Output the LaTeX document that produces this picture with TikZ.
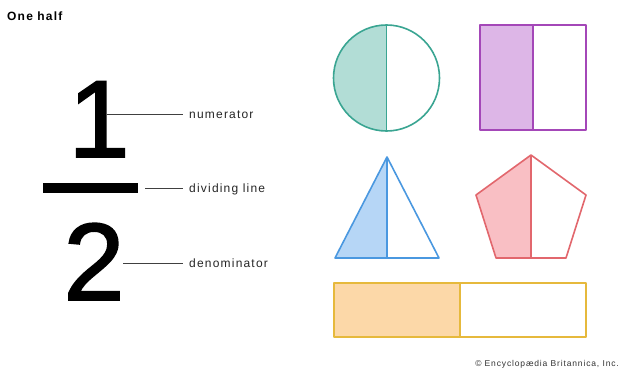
\documentclass[tikz,border=0pt]{standalone}
\usepackage{fontspec}
\setmainfont{Liberation Sans}
\newfontfamily\labfont[LetterSpace=10]{Liberation Sans}
\newfontfamily\digfont[FakeBold=1.5]{Liberation Sans}
\definecolor{tealS}{HTML}{3AA592}
\definecolor{tealF}{HTML}{B2DDD6}
\definecolor{purpS}{HTML}{A447B8}
\definecolor{purpF}{HTML}{DDB6E7}
\definecolor{blueS}{HTML}{4A98E0}
\definecolor{blueF}{HTML}{B6D6F6}
\definecolor{redS}{HTML}{E2676D}
\definecolor{redF}{HTML}{F9BFC4}
\definecolor{orS}{HTML}{E6B93C}
\definecolor{orF}{HTML}{FCD8A8}
\begin{document}
\begin{tikzpicture}[x=1pt,y=-1pt,
  lab/.style={font=\labfont\fontsize{12}{14}\selectfont, anchor=base west, inner sep=0pt, text=black!85},
  lead/.style={draw=black!75, line width=0.8pt},
  digit/.style={font=\digfont\fontsize{110}{110}\selectfont, anchor=base, inner sep=0pt},
  shp/.style={line width=1.6pt, line join=round}]
\useasboundingbox (0,0) rectangle (620,369);
\fill[white] (0,0) rectangle (620,369);
% title
\node[font=\labfont\bfseries\fontsize{12}{14}\selectfont, anchor=base west, inner sep=0pt] (title) at (7,21) {One half};
% fraction
\node[digit] (one) at (99,157) {1};
\node[digit] (two) at (94,300) {2};
\node[fill=black, minimum width=95pt, minimum height=10pt, inner sep=0pt] (bar) at (90.5,188) {};
\node[lab] (num) at (189,118) {numerator};
\node[lab] (div) at (189,192) {dividing line};
\node[lab] (den) at (189,267) {denominator};
\coordinate (n1) at (107,114); \coordinate (n2) at (183,114);
\coordinate (d1) at (145,188); \coordinate (d2) at (183,188);
\coordinate (m1) at (123,263); \coordinate (m2) at (183,263);
\draw[lead] (n1) -- (n2);
\draw[lead] (d1) -- (d2);
\draw[lead] (m1) -- (m2);
% circle
\fill[tealF] (386.5,25) arc[start angle=-90, end angle=-270, radius=53] -- cycle;
\draw[shp, tealS] (386.5,78) circle[radius=53];
\draw[shp, tealS] (386.5,25) -- (386.5,131);
% purple rectangle
\fill[purpF] (480,25) rectangle (533,130);
\draw[shp, purpS] (480,25) rectangle (586,130);
\draw[shp, purpS] (533,25) -- (533,130);
% triangle
\fill[blueF] (387,157) -- (335,258) -- (387,258) -- cycle;
\draw[shp, blueS] (387,157) -- (335,258) -- (439,258) -- cycle;
\draw[shp, blueS] (387,157) -- (387,258);
% pentagon
\fill[redF] (531,155) -- (476,195) -- (496,258) -- (531,258) -- cycle;
\draw[shp, redS] (531,155) -- (476,195) -- (496,258) -- (566,258) -- (586,195) -- cycle;
\draw[shp, redS] (531,155) -- (531,258);
% orange bar
\fill[orF] (334,283) rectangle (460,337);
\draw[shp, orS] (334,283) rectangle (586,337);
\draw[shp, orS] (460,283) -- (460,337);
% credit
\node[font=\labfont\fontsize{8.5}{10}\selectfont, anchor=base east, inner sep=0pt, text=black!80] (credit) at (619,366) {© Encyclopædia Britannica, Inc.};
\end{tikzpicture}
\end{document}
